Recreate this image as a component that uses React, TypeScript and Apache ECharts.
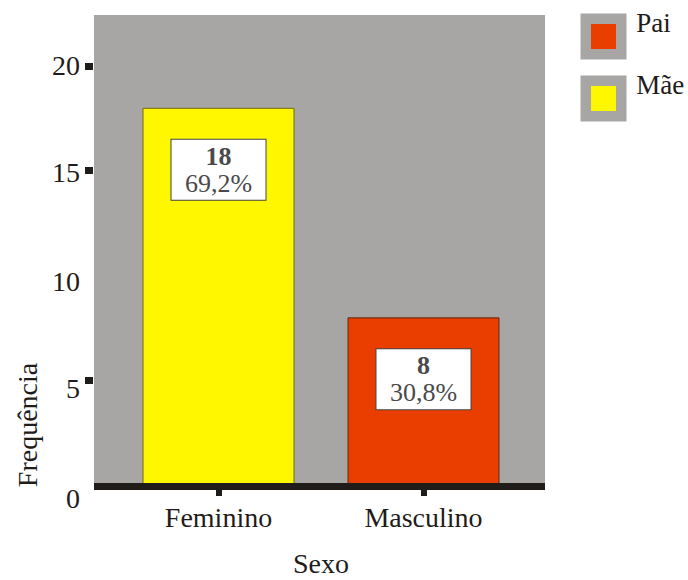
import React, { useEffect, useRef } from "react";
import * as echarts from "echarts";

// Frequency of respondents by sex of the child
const categories = ["Feminino", "Masculino"];
const maeValues: (number | string)[] = [18, "-"];
const paiValues: (number | string)[] = ["-", 8];
const counts = [18, 8];
const legendNames = ["Pai", "Mãe"];
const yLabelValues = [0, 5, 10, 15, 20];
const yTickValues = [5, 15, 20];

const FONT = "Liberation Serif, Times New Roman, serif";
const INK = "#1f1c1a";
const PANEL = "#a8a6a5";
const YELLOW = "#fff700";
const RED = "#e93e00";

// per-label downward nudge of the y tick labels (px of top padding)
const yLabelPad: Record<number, number> = { 0: 26, 5: 16, 10: 13, 15: 4, 20: 0 };

const total = counts.reduce((a, b) => a + b, 0);

function barLabel(p: any) {
  const v = Number(p.value);
  const pct = ((v / total) * 100).toFixed(1).replace(".", ",");
  return `{v|${v}}\n{p|${pct}%}`;
}

const labelStyle = {
  show: true,
  position: "insideTop",
  distance: 32,
  formatter: barLabel,
  backgroundColor: "#ffffff",
  borderColor: "#444444",
  borderWidth: 1,
  width: 94,
  padding: [3, 0, 3, 0],
  align: "center",
  rich: {
    v: { fontFamily: FONT, fontSize: 26, fontWeight: "bold", color: "#4a4a4a", lineHeight: 27, align: "center", width: 94 },
    p: { fontFamily: FONT, fontSize: 26, color: "#4a4a4a", lineHeight: 27, align: "center", width: 94 },
  },
};

const yRich: Record<string, any> = {};
yLabelValues.forEach((v) => {
  yRich["s" + v] = {
    fontFamily: FONT,
    fontSize: 28,
    color: INK,
    padding: [yLabelPad[v] || 0, 0, 0, 0],
  };
});

export default function App() {
  const ref = useRef<HTMLDivElement>(null);

  useEffect(() => {
    if (!ref.current) return;
    const chart = echarts.init(ref.current, undefined, { renderer: "svg" });
    chart.setOption({
      animation: false,
      backgroundColor: "#ffffff",
      textStyle: { fontFamily: FONT },
      grid: { left: 116, width: 410, top: 15, height: 470, containLabel: false, outerBoundsMode: "none" },
      legend: {
        data: legendNames,
        orient: "vertical",
        left: 580.5,
        top: 9,
        padding: 0,
        itemGap: 7,
        itemWidth: 35.5,
        itemHeight: 35.5,
        icon: "rect",
        itemStyle: { borderColor: PANEL, borderWidth: 10.5 },
        formatter: "{t|{name}}",
        textStyle: {
          fontFamily: FONT,
          fontSize: 27,
          color: INK,
          rich: {
            t: { fontFamily: FONT, fontSize: 27, color: INK, lineHeight: 30, padding: [0, 0, 28, 10] },
          },
        },
      },
      xAxis: {
        type: "category",
        data: categories,
        name: "Sexo",
        nameLocation: "middle",
        nameGap: 66,
        nameTextStyle: { fontFamily: FONT, fontSize: 28, lineHeight: 24, color: INK },
        axisLine: { show: false, onZero: false },
        axisTick: { show: true, inside: false, alignWithLabel: true, length: 11, lineStyle: { color: INK, width: 6 } },
        axisLabel: { fontFamily: FONT, fontSize: 28, color: INK, margin: 18 },
        splitLine: { show: false },
      },
      yAxis: {
        type: "value",
        min: 0,
        max: 22.43,
        offset: 23,
        axisLine: { show: false },
        axisTick: {
          show: true,
          length: 8,
          customValues: yTickValues,
          lineStyle: { color: INK, width: 7 },
        },
        axisLabel: {
          customValues: yLabelValues,
          margin: 13,
          fontFamily: FONT,
          fontSize: 28,
          color: INK,
          formatter: (v: number) => `{s${v}|${v}}`,
          rich: yRich,
        },
        splitLine: { show: false },
      },
      graphic: [
        {
          type: "rect",
          z: -10,
          shape: { x: 94, y: 15, width: 451, height: 470 },
          style: { fill: PANEL },
          silent: true,
        },
        {
          type: "rect",
          z: 100,
          shape: { x: 94, y: 483, width: 451, height: 7 },
          style: { fill: INK },
          silent: true,
        },
        {
          type: "text",
          x: 27,
          y: 425,
          rotation: Math.PI / 2,
          style: {
            text: "Frequência",
            fontFamily: FONT,
            fontSize: 28,
            fill: INK,
            align: "center",
            verticalAlign: "middle",
          },
          silent: true,
        },
      ],
      series: [
        {
          name: "Pai",
          type: "bar",
          data: paiValues,
          barWidth: 152,
          barGap: "-100%",
          itemStyle: { color: RED, borderColor: "#5a2a10", borderWidth: 1 },
          label: labelStyle,
        },
        {
          name: "Mãe",
          type: "bar",
          data: maeValues,
          barWidth: 152,
          barGap: "-100%",
          itemStyle: { color: YELLOW, borderColor: "#6e6a10", borderWidth: 1 },
          label: labelStyle,
        },
      ],
    });
    return () => chart.dispose();
  }, []);

  return <div ref={ref} style={{ width: 688, height: 580, position: "absolute", left: 0, top: 0 }} />;
}
